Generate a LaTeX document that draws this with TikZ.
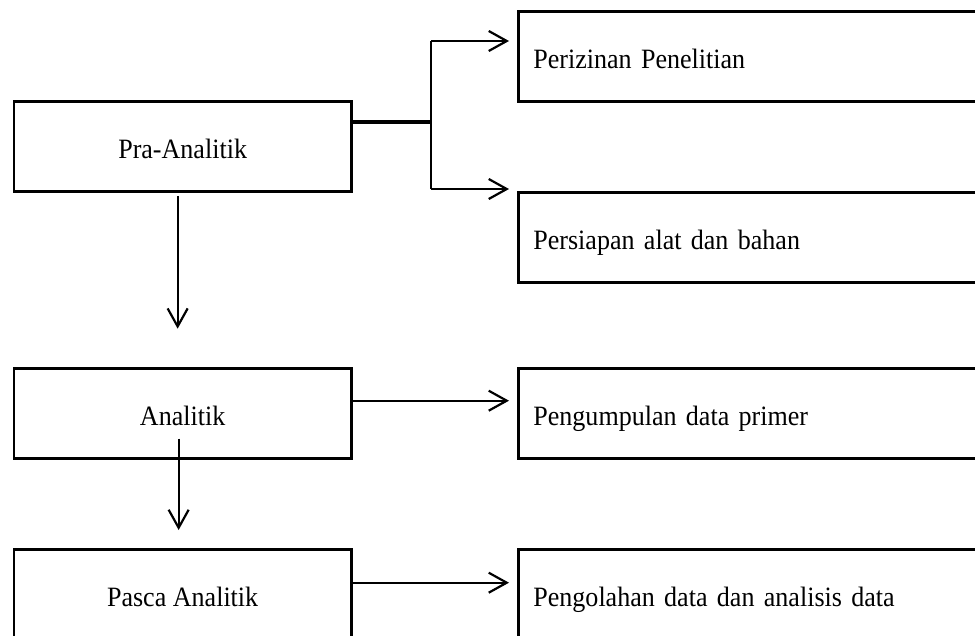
\documentclass[tikz,border=0pt]{standalone}
\usepackage{fontspec}
\setmainfont[FakeStretch=0.93]{Liberation Serif}
\usetikzlibrary{arrows.meta,calc}

\begin{document}
\begin{tikzpicture}[x=1pt,y=-1pt,>={Straight Barb[length=18pt,width=20pt]},
 stage/.style={draw,line width=2.8pt,anchor=north west,minimum width=337.5pt,inner ysep=0pt,
  text height=57pt,text depth=33pt,font=\fontsize{28}{32}\selectfont},
 task/.style={stage,text width=480pt,inner xsep=15pt,align=left},
 link/.style={line width=2.2pt,->}]
 \path[use as bounding box] (0,0) rectangle (975,635);
 \clip (0,0) rectangle (975,635);
 % stages
 \node[stage] (pra) at (12.5,100) {Pra-Analitik};
 \node[stage] (ana) at (12.5,366.7) {Analitik};
 \node[stage] (pasca) at (12.5,548) {Pasca Analitik};
 % tasks
 \node[task] (izin) at (517,10) {Perizinan Penelitian};
 \node[task] (siap) at (517,191) {Persiapan alat dan bahan};
 \node[task] (kumpul) at (517,366.7) {Pengumpulan data primer};
 \node[task] (olah) at (517,548) {Pengolahan data dan analisis data};
 % fork
 \coordinate (fork) at (431,122);
 \coordinate (forkA) at (431,41);
 \coordinate (forkB) at (431,189);
 \draw[line width=4pt] (pra.east |- fork) -- (fork);
 \draw[line width=2.2pt] (forkA) -- (forkB);
 \draw[link,shorten >=8pt] (forkA) -- (forkA -| izin.west);
 \draw[link,shorten >=8pt] (forkB) -- (forkB -| siap.west);
 \draw[link] ($(ana.north east)+(0,34)$) -- ($(kumpul.north west)+(-8,34)$);
 \draw[link] ($(pasca.north east)+(0,34.7)$) -- ($(olah.north west)+(-8,34.7)$);
 \draw[link] ($(pra.south)+(-5,3)$) -- ($(ana.north)+(-5,-38)$);
 \draw[link] ($(ana.south)+(-4,-21)$) -- ($(pasca.north)+(-4,-18)$);
\end{tikzpicture}
\end{document}
